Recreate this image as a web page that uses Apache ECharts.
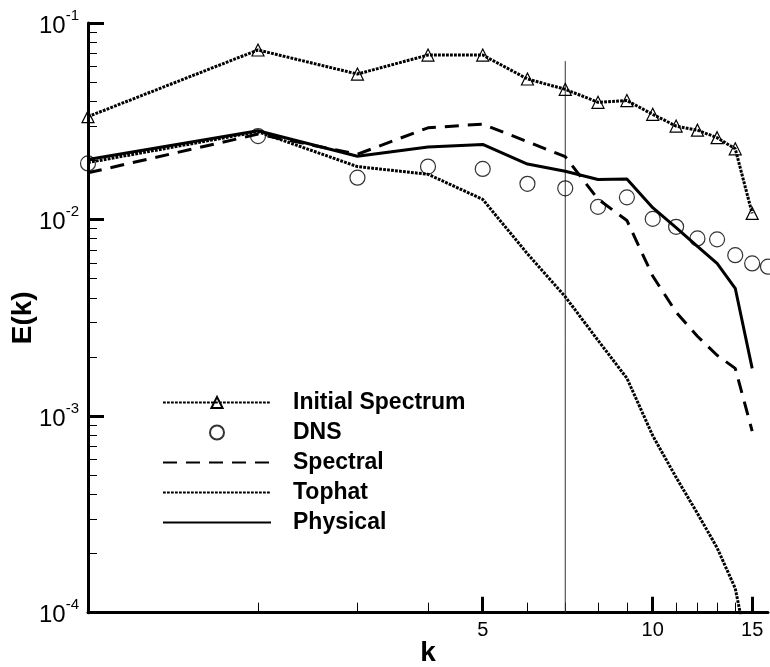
<!DOCTYPE html>
<html>
<head>
<meta charset="utf-8">
<script src="https://cdn.jsdelivr.net/npm/echarts@6/dist/echarts.min.js"></script>
<style>
html,body{margin:0;padding:0;background:#fff;}
#chart{width:770px;height:667px;}
</style>
</head>
<body>
<div id="chart"></div>
<script>
// ---- data ----
const k = [1,2,3,4,5,6,7,8,9,10,11,12,13,14,15];
const kDNS = [1,2,3,4,5,6,7,8,9,10,11,12,13,14,15,16];
const initialSpectrum = [0.0334,0.0729,0.055,0.0687,0.0687,0.0519,0.046,0.0395,0.0403,0.0343,0.0299,0.0285,0.0261,0.0229,0.01075];
const dns = [0.0193,0.0266,0.01633,0.0186,0.0181,0.0152,0.01442,0.0116,0.01297,0.01008,0.00919,0.00802,0.00793,0.00659,0.00598,0.00576];
const spectral = [0.0173,0.0272,0.0215,0.0293,0.0306,0.0249,0.0209,0.0127,0.0099,0.00516,0.00338,0.00255,0.00204,0.00175,0.00084];
const tophat = [0.0195,0.0280,0.0186,0.0170,0.01267,0.0067,0.00405,0.00243,0.00156,0.000796,0.000488,0.00032,0.000214,0.000133,0.00005];
const physical = [0.0202,0.0283,0.0210,0.0234,0.0241,0.01916,0.0176,0.0160,0.0161,0.0115,0.0091,0.0073,0.00598,0.00447,0.00175];
const cutoffK = [7, 7];
const cutoffE = [0.0001, 0.064];
const seriesNames = ['Initial Spectrum','DNS','Spectral','Tophat','Physical'];
const xMajorTicks = [5, 10, 15];
const xMinorTicks = [2,3,4,6,7,8,9,11,12,13,14];
const yMinorTicks = [];
[0.0001, 0.001, 0.01].forEach(d => { for (let m = 2; m <= 9; m++) yMinorTicks.push(+(d*m).toPrecision(3)); });

const pairs = (xs, ys) => xs.map((x, i) => [x, ys[i]]);
const FONT = '"Liberation Sans", Arial, sans-serif';

const chart = echarts.init(document.getElementById('chart'), null, {renderer: 'canvas'});
const dotted = [2.8, 1.2];
const noSym = {color: 'rgba(0,0,0,0)', borderWidth: 0, opacity: 0};

const option = {
  animation: false,
  backgroundColor: '#fff',
  grid: {left: 88, right: 2, top: 23, bottom: 54.3, outerBoundsMode: 'none', containLabel: false},
  legend: {
    orient: 'vertical',
    left: 162,
    top: 391,
    padding: 0,
    itemWidth: 108,
    itemHeight: 14,
    itemGap: 7,
    data: [
      {name: seriesNames[0]},
      {name: seriesNames[1], icon: 'circle'},
      {name: seriesNames[2], itemStyle: noSym},
      {name: seriesNames[3], itemStyle: noSym},
      {name: seriesNames[4], itemStyle: noSym}
    ],
    textStyle: {fontFamily: FONT, fontSize: 23, fontWeight: 'bold', color: '#000', padding: [0,0,0,17], lineHeight: 22}
  },
  xAxis: [{
    type: 'log', logBase: 10, min: 1, max: 16,
    name: 'k', nameLocation: 'middle', nameGap: 27, nameMoveOverlap: false,
    nameTextStyle: {fontFamily: FONT, fontSize: 28, fontWeight: 'bold', color: '#000'},
    axisLine: {show: true, lineStyle: {color: '#000', width: 3}},
    axisTick: {show: true, inside: true, length: 16, lineStyle: {color: '#000', width: 3}, customValues: xMajorTicks},
    axisLabel: {show: true, customValues: xMajorTicks, fontFamily: FONT, fontSize: 20, color: '#000', margin: 8},
    splitLine: {show: false}, minorTick: {show: false}
  }, {
    type: 'log', logBase: 10, min: 1, max: 16, position: 'bottom',
    axisLine: {show: false},
    axisTick: {show: true, inside: true, length: 10, lineStyle: {color: '#000', width: 1}, customValues: xMinorTicks},
    axisLabel: {show: false}, splitLine: {show: false}
  }],
  yAxis: [{
    type: 'log', logBase: 10, min: 0.0001, max: 0.1,
    name: 'E(k)', nameLocation: 'middle', nameGap: 51, nameRotate: 90, nameMoveOverlap: false,
    nameTextStyle: {fontFamily: FONT, fontSize: 28, fontWeight: 'bold', color: '#000'},
    axisLine: {show: true, lineStyle: {color: '#000', width: 3}},
    axisTick: {show: true, inside: true, length: 16, lineStyle: {color: '#000', width: 3}},
    axisLabel: {
      show: true, margin: 9,
      formatter: v => '{b|10}{s|' + Math.round(Math.log10(v)) + '}',
      rich: {
        b: {fontFamily: FONT, fontSize: 24, color: '#000', lineHeight: 30, verticalAlign: 'bottom'},
        s: {fontFamily: FONT, fontSize: 15, color: '#000', lineHeight: 30, verticalAlign: 'top'}
      }
    },
    splitLine: {show: false}, minorTick: {show: false}
  }, {
    type: 'log', logBase: 10, min: 0.0001, max: 0.1, position: 'left',
    axisLine: {show: false},
    axisTick: {show: true, inside: true, length: 9, lineStyle: {color: '#000', width: 1}, customValues: yMinorTicks},
    axisLabel: {show: false}, splitLine: {show: false}
  }],
  series: [
    {
      name: 'cutoff', type: 'line', data: pairs(cutoffK, cutoffE), showSymbol: false, silent: true,
      lineStyle: {color: '#333', width: 1}, z: 1
    },
    {
      name: seriesNames[0], type: 'line', data: pairs(k, initialSpectrum),
      symbol: 'triangle', symbolSize: 12, showSymbol: true,
      itemStyle: {color: 'rgba(255,255,255,0)', borderColor: '#000', borderWidth: 1.2},
      lineStyle: {color: '#000', width: 3, type: dotted}
    },
    {
      name: seriesNames[1], type: 'scatter', data: pairs(kDNS, dns),
      symbol: 'circle', symbolSize: 15,
      itemStyle: {color: 'rgba(255,255,255,0)', borderColor: '#000', borderWidth: 1.2}
    },
    {
      name: seriesNames[2], type: 'line', data: pairs(k, spectral), showSymbol: false,
      itemStyle: {color: 'rgba(0,0,0,0)'},
      lineStyle: {color: '#000', width: 3, type: [14, 9]}
    },
    {
      name: seriesNames[3], type: 'line', data: pairs(k, tophat), showSymbol: false,
      itemStyle: {color: 'rgba(0,0,0,0)'},
      lineStyle: {color: '#000', width: 3, type: dotted}
    },
    {
      name: seriesNames[4], type: 'line', data: pairs(k, physical), showSymbol: false,
      itemStyle: {color: 'rgba(0,0,0,0)'},
      lineStyle: {color: '#000', width: 3}
    }
  ]
};
chart.setOption(option);
</script>
</body>
</html>
